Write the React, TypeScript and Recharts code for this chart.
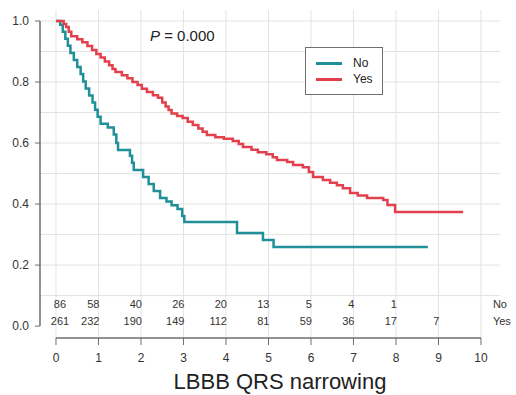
import React from 'react';
import { ComposedChart, Line, Scatter, XAxis, YAxis, ReferenceLine } from 'recharts';

// Kaplan-Meier steps (time, survival)
const NO_TIMES = [0, 0.1, 0.16, 0.22, 0.28, 0.34, 0.42, 0.5, 0.58, 0.64, 0.7, 0.78, 0.86, 0.92, 0.98, 1.05, 1.22, 1.36, 1.42, 1.46, 1.74, 1.79, 1.83, 2.05, 2.18, 2.3, 2.45, 2.6, 2.72, 2.86, 2.97, 3.02, 4.26, 4.87, 5.12, 8.75];
const NO_SURV = [1.0, 0.988, 0.965, 0.942, 0.919, 0.895, 0.872, 0.849, 0.826, 0.802, 0.779, 0.756, 0.733, 0.709, 0.686, 0.663, 0.651, 0.628, 0.6, 0.577, 0.558, 0.535, 0.512, 0.489, 0.466, 0.443, 0.42, 0.408, 0.396, 0.384, 0.361, 0.341, 0.305, 0.282, 0.259, 0.259];

const YES_TIMES = [0, 0.18, 0.24, 0.3, 0.36, 0.5, 0.62, 0.74, 0.85, 0.95, 1.05, 1.15, 1.25, 1.33, 1.4, 1.55, 1.68, 1.8, 1.92, 2.02, 2.14, 2.28, 2.4, 2.5, 2.58, 2.65, 2.72, 2.85, 2.98, 3.1, 3.22, 3.35, 3.45, 3.55, 3.75, 3.95, 4.16, 4.3, 4.4, 4.6, 4.75, 4.95, 5.1, 5.2, 5.44, 5.58, 5.81, 5.95, 6.05, 6.28, 6.45, 6.61, 6.75, 6.92, 7.1, 7.32, 7.7, 7.8, 7.98, 9.58];
const YES_SURV = [1.0, 0.99, 0.98, 0.965, 0.95, 0.94, 0.93, 0.918, 0.905, 0.892, 0.88, 0.867, 0.855, 0.843, 0.833, 0.822, 0.812, 0.8, 0.79, 0.778, 0.767, 0.757, 0.748, 0.733, 0.72, 0.708, 0.697, 0.689, 0.682, 0.67, 0.659, 0.648, 0.637, 0.626, 0.619, 0.614, 0.607, 0.597, 0.587, 0.578, 0.57, 0.563, 0.553, 0.544, 0.538, 0.528, 0.521, 0.505, 0.489, 0.479, 0.47, 0.462, 0.452, 0.436, 0.428, 0.42, 0.413, 0.397, 0.374, 0.374];

// numbers at risk
const RISK_TIMES = [0, 1, 2, 3, 4, 5, 6, 7, 8, 9];
const NO_AT_RISK = [86, 58, 40, 26, 20, 13, 5, 4, 1];
const YES_AT_RISK = [261, 232, 190, 149, 112, 81, 59, 36, 17, 7];

const X_TICKS = [0, 1, 2, 3, 4, 5, 6, 7, 8, 9, 10];
const Y_TICKS = [0, 0.2, 0.4, 0.6, 0.8, 1.0];
const GRID_Y = [0.1, 0.2, 0.3, 0.4, 0.5, 0.6, 0.7, 0.8, 0.9, 1.0];

const X_MIN = -0.376;
const X_MAX = 10.824;
const GRID_RIGHT = 10.447;
const Y_MIN = -0.039;
const Y_MAX = 1.036;

const TEAL = '#1f9098';
const RED = '#e2404c';
const GRID = '#e3e3e3';
const AXIS = '#6e6e6e';
const FONT = '"Liberation Sans", Arial, sans-serif';

const noData = NO_TIMES.map((t, i) => ({ t, s: NO_SURV[i] }));
const yesData = YES_TIMES.map((t, i) => ({ t, s: YES_SURV[i] }));
const noRisk = NO_AT_RISK.map((n, i) => ({ t: RISK_TIMES[i], y: 0.072, n }));
const yesRisk = YES_AT_RISK.map((n, i) => ({ t: RISK_TIMES[i], y: 0.016, n }));
const rowLabels = [
  { t: 10.28, y: 0.072, n: 'No' },
  { t: 10.28, y: 0.016, n: 'Yes' },
];

const RiskText = (props: any) => {
  const { cx, cy, payload } = props;
  const first = payload.t === 0;
  return (
    <text
      x={first ? cx + 4 : cx + 1}
      y={cy}
      textAnchor={first ? 'middle' : 'end'}
      dominantBaseline="central"
      fontSize={11}
      fill="#333"
      fontFamily={FONT}
    >
      {payload.n}
    </text>
  );
};

const RowLabel = (props: any) => {
  const { cx, cy, payload } = props;
  return (
    <text x={cx} y={cy} textAnchor="start" dominantBaseline="central" fontSize={11} fill="#333" fontFamily={FONT}>
      {payload.n}
    </text>
  );
};

const LEGEND = [
  { name: 'No', color: TEAL },
  { name: 'Yes', color: RED },
];

export default function App() {
  return (
    <div style={{ position: 'absolute', left: 0, top: 0, width: 516, height: 395, background: '#fff', fontFamily: FONT }}>
      <ComposedChart width={516} height={395} margin={{ top: 10, right: 0, left: 0, bottom: 0 }}>
        <XAxis
          type="number"
          dataKey="t"
          domain={[X_MIN, X_MAX]}
          allowDataOverflow
          ticks={X_TICKS}
          axisLine={false}
          tickLine={{ stroke: AXIS }}
          tickSize={7}
          tickMargin={8}
          height={57}
          tick={{ fontSize: 12, fill: '#333', fontFamily: FONT }}
          label={{ value: 'LBBB QRS narrowing', position: 'insideBottom', offset: 6, dx: 2, fontSize: 22, fill: '#222', fontFamily: FONT }}
        />
        <YAxis
          type="number"
          domain={[Y_MIN, Y_MAX]}
          allowDataOverflow
          ticks={Y_TICKS}
          width={40}
          axisLine={false}
          tickLine={{ stroke: AXIS }}
          tickSize={5}
          tickMargin={6}
          tickFormatter={(v: number) => v.toFixed(1)}
          tick={{ fontSize: 12, fill: '#333', fontFamily: FONT }}
        />
        {GRID_Y.map((v) => (
          <ReferenceLine key={`gy-${v}`} segment={[{ x: X_MIN, y: v }, { x: GRID_RIGHT, y: v }]} stroke={GRID} strokeWidth={1} />
        ))}
        {X_TICKS.map((v) => (
          <ReferenceLine key={`gx-${v}`} segment={[{ x: v, y: Y_MIN }, { x: v, y: Y_MAX }]} stroke={GRID} strokeWidth={1} />
        ))}
        <ReferenceLine segment={[{ x: X_MIN, y: 0 }, { x: X_MIN, y: 1 }]} stroke={AXIS} strokeWidth={1.5} />
        <ReferenceLine segment={[{ x: 0, y: Y_MIN }, { x: 10, y: Y_MIN }]} stroke={AXIS} strokeWidth={1.5} />
        <Line data={noData} dataKey="s" name="No" type="stepAfter" stroke={TEAL} strokeWidth={2.5} dot={false} isAnimationActive={false} />
        <Line data={yesData} dataKey="s" name="Yes" type="stepAfter" stroke={RED} strokeWidth={2.5} dot={false} isAnimationActive={false} />
        <Scatter data={noRisk} dataKey="y" shape={RiskText} legendType="none" isAnimationActive={false} />
        <Scatter data={yesRisk} dataKey="y" shape={RiskText} legendType="none" isAnimationActive={false} />
        <Scatter data={rowLabels} dataKey="y" shape={RowLabel} legendType="none" isAnimationActive={false} />
      </ComposedChart>
      <div style={{ position: 'absolute', left: 305, top: 47, border: `1px solid ${AXIS}`, background: '#fff', width: 78, height: 48, boxSizing: 'border-box', padding: '7px 0 0 10px', fontFamily: FONT, fontSize: 12, color: '#222' }}>
        {LEGEND.map((e) => (
          <div key={e.name} style={{ display: 'flex', alignItems: 'center', height: 16 }}>
            <span style={{ display: 'inline-block', width: 26, height: 3, background: e.color, marginRight: 11 }} />
            <span>{e.name}</span>
          </div>
        ))}
      </div>
      <div style={{ position: 'absolute', left: 150, top: 27, fontSize: 15, color: '#222', fontFamily: FONT, whiteSpace: 'nowrap' }}>
        <i>P</i> = 0.000
      </div>
    </div>
  );
}
